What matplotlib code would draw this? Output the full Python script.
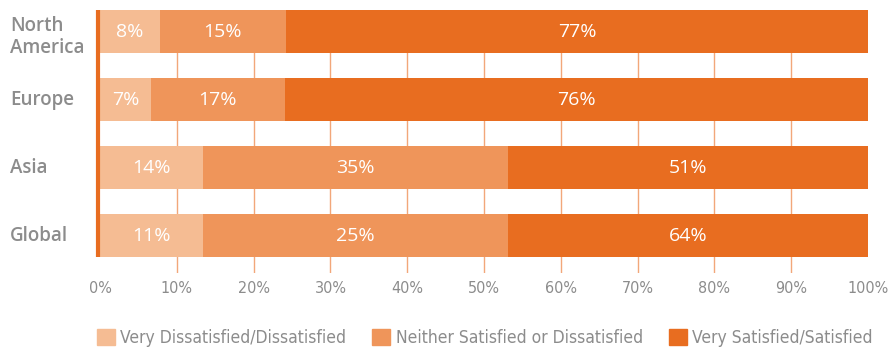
import numpy as np
import matplotlib.pyplot as plt
import matplotlib.transforms as mtransforms
from matplotlib.patches import Patch
from matplotlib.font_manager import FontProperties

regions = ['North\nAmerica', 'Europe', 'Asia', 'Global']
# segment widths as drawn in the picture (percent of axis)
dissatisfied = [7.8, 6.6, 13.4, 13.4]
neither = [16.4, 17.5, 39.7, 39.7]
satisfied = [76.0, 75.9, 46.9, 46.9]
# printed labels
lab_dis = ['8%', '7%', '14%', '11%']
lab_nei = ['15%', '17%', '35%', '25%']
lab_sat = ['77%', '76%', '51%', '64%']
series_names = ['Very Dissatisfied/Dissatisfied', 'Neither Satisfied or Dissatisfied',
                'Very Satisfied/Satisfied']
xticks = [0, 10, 20, 30, 40, 50, 60, 70, 80, 90, 100]

colors = ['#F5BC93', '#EF955A', '#E86D20']
grey = '#8C8C8C'
main = 'Open Sans'
cond_tick = FontProperties(family='DejaVu Sans', stretch='condensed', size=11.5)
cond_leg = FontProperties(family='DejaVu Sans', stretch='condensed', size=12.5)

fig = plt.figure(figsize=(8.89, 3.47), dpi=100)
ax = fig.add_axes([100 / 889, 1 - 273 / 347, 768 / 889, 263 / 347])

y = np.arange(len(regions))
h = 43 / 68
left = np.zeros(len(regions))
for vals, labs, c in zip([dissatisfied, neither, satisfied], [lab_dis, lab_nei, lab_sat], colors):
    vals = np.array(vals)
    ax.barh(y, vals, left=left, height=h, color=c, zorder=3)
    for yi, l, v, t in zip(y, left, vals, labs):
        ax.text(l + v / 2, yi, t, ha='center', va='center', color='white',
                fontsize=14, family=main, zorder=4)
    left = left + vals

ax.set_xlim(0, 100)
ax.set_ylim(3.55, -21.5 / 68)
for x in xticks[1:-1]:
    ax.axvline(x, color='#F2A77A', lw=1, zorder=1)
ax.vlines(-0.3, -21.5 / 68, 3 + 21.5 / 68, color='#E86D20', lw=3, zorder=5, clip_on=False)

for s in ax.spines.values():
    s.set_visible(False)
ax.set_yticks([])
ax.set_xticks(xticks)
ax.set_xticklabels([f'{x}%' for x in xticks], fontproperties=cond_tick, color=grey)
ax.tick_params(axis='x', length=0, pad=6)

trans = mtransforms.blended_transform_factory(fig.transFigure, ax.transData)
for yi, r in zip(y, regions):
    dy = 0.08 if '\n' in r else 0.0
    ax.text(10 / 889, yi + dy, r, transform=trans, ha='left', va='center', color=grey,
            fontsize=13.5, family=main, fontweight='semibold', linespacing=1.15)

handles = [Patch(color=c) for c in colors]
leg = fig.legend(handles, series_names, loc='lower left', bbox_to_anchor=(81 / 889, -0.045),
                 ncol=3, frameon=False, handlelength=1.05, handleheight=1.1, handletextpad=0.3,
                 columnspacing=1.5, prop=cond_leg)
for t in leg.get_texts():
    t.set_color(grey)

fig.savefig('out.png', dpi=100)
